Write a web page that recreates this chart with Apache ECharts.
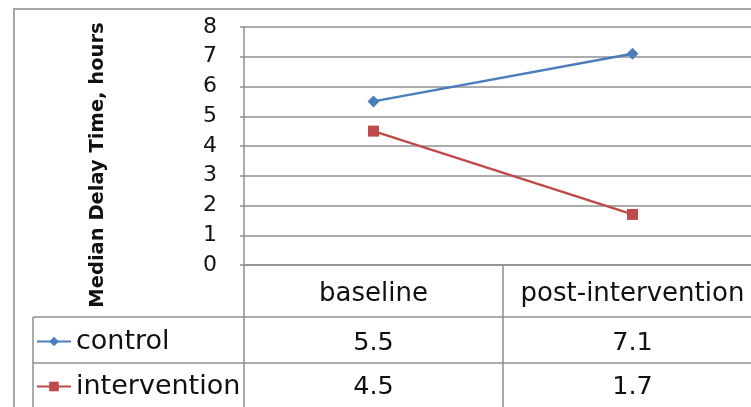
<!DOCTYPE html>
<html><head><meta charset="utf-8">
<script src="https://cdn.jsdelivr.net/npm/echarts@6/dist/echarts.min.js"></script>
<style>html,body{margin:0;padding:0;overflow:hidden;background:#fff}#c{width:770px;height:407px}</style>
</head><body><div id="c"></div>
<script>
const categories = ['baseline', 'post-intervention'];
const controlValues = [5.5, 7.1];
const interventionValues = [4.5, 1.7];
const yTicks = [0, 1, 2, 3, 4, 5, 6, 7, 8];
const yTitle = 'Median Delay Time, hours';

const gridColor = '#8f8f8f';
const textColor = '#111111';
const blue = '#4a7ebb';
const red = '#be4b48';
const font = 'DejaVu Sans';

const chart = echarts.init(document.getElementById('c'), null, {renderer: 'canvas'});
chart.setOption({
  animation: false,
  backgroundColor: '#fff',
  grid: {left: 244, right: 8, top: 27, bottom: 142, containLabel: false},
  legend: {
    orient: 'vertical', left: 36, top: 327, itemGap: 16, padding: 0,
    itemWidth: 34, itemHeight: 12,
    textStyle: {fontFamily: font, fontSize: 27, color: textColor, lineHeight: 29},
    data: ['control', 'intervention']
  },
  xAxis: [
    {type: 'category', data: categories, position: 'bottom',
     axisLine: {show: true, lineStyle: {color: gridColor, width: 1.5}},
     axisTick: {show: true, length: 145, interval: 0, lineStyle: {color: gridColor, width: 1.5}},
     axisLabel: {fontFamily: font, fontSize: 26, color: textColor, margin: 16, interval: 0}},
    {type: 'category', data: categories, position: 'bottom', offset: 65,
     axisLine: {show: false}, axisTick: {show: false},
     axisLabel: {fontFamily: font, fontSize: 25.5, color: textColor, margin: 0, interval: 0,
       formatter: (v, i) => String(controlValues[i])}},
    {type: 'category', data: categories, position: 'bottom', offset: 109,
     axisLine: {show: false}, axisTick: {show: false},
     axisLabel: {fontFamily: font, fontSize: 25.5, color: textColor, margin: 0, interval: 0,
       formatter: (v, i) => String(interventionValues[i])}}
  ],
  yAxis: {
    type: 'value', min: yTicks[0], max: yTicks[yTicks.length - 1], interval: 1,
    name: yTitle, nameLocation: 'middle', nameRotate: 90, nameGap: 136,
    nameTextStyle: {fontFamily: font, fontSize: 19.5, fontWeight: 'bold', color: textColor, padding: [0, 38, 0, 0]},
    axisLine: {show: true, lineStyle: {color: gridColor, width: 1.5}},
    axisTick: {show: true, length: 4, lineStyle: {color: gridColor, width: 1.5}},
    axisLabel: {fontFamily: font, fontSize: 22, color: textColor, margin: 27},
    splitLine: {show: true, lineStyle: {color: gridColor, width: 1.5}}
  },
  series: [
    {name: 'control', type: 'line', data: controlValues, xAxisIndex: 0,
     symbol: 'diamond', symbolSize: 12, itemStyle: {color: blue},
     lineStyle: {color: blue, width: 2.5}},
    {name: 'intervention', type: 'line', data: interventionValues, xAxisIndex: 0,
     symbol: 'rect', symbolSize: 11, itemStyle: {color: red},
     lineStyle: {color: red, width: 2.5}}
  ],
  graphic: [
    {type: 'rect', shape: {x: 14, y: 9, width: 800, height: 500}, style: {fill: null, stroke: '#a6a6a6', lineWidth: 2}, silent: true},
    {type: 'line', shape: {x1: 33, y1: 317, x2: 800, y2: 317}, style: {stroke: gridColor, lineWidth: 1.5}, silent: true},
    {type: 'line', shape: {x1: 33, y1: 363, x2: 800, y2: 363}, style: {stroke: gridColor, lineWidth: 1.5}, silent: true},
    {type: 'line', shape: {x1: 33, y1: 317, x2: 33, y2: 420}, style: {stroke: gridColor, lineWidth: 1.5}, silent: true}
  ]
});
</script></body></html>
